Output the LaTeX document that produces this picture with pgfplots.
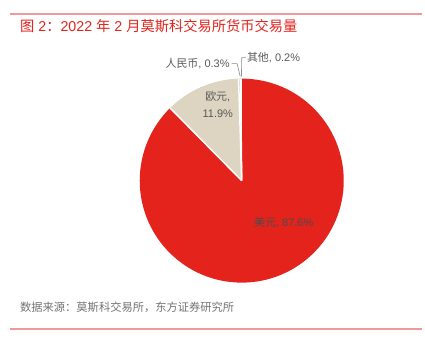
\documentclass[border=0pt]{standalone}
\usepackage{fontspec}
\usepackage{pgfplots}
\pgfplotsset{compat=1.18}
\setmainfont{Liberation Sans}
\newfontfamily\cjk{Noto Sans CJK SC}
\definecolor{cred}{HTML}{E3231C}
\definecolor{cbeige}{HTML}{DDD5C2}
\definecolor{cline}{HTML}{EE9A9A}
\definecolor{ctext}{HTML}{595959}
\definecolor{csmallA}{HTML}{BFBFBF}
\definecolor{csmallB}{HTML}{A6A6A6}
% shares in percent, clockwise from 12 o'clock
\def\vUSD{87.6}
\def\vEUR{11.9}
\def\vCNY{0.3}
\def\vOTH{0.2}
\pgfmathsetmacro{\aA}{90}
\pgfmathsetmacro{\aB}{90-3.6*\vUSD}
\pgfmathsetmacro{\aC}{\aB-3.6*\vEUR}
\pgfmathsetmacro{\aD}{\aC-3.6*\vCNY}
\pgfmathsetmacro{\aE}{\aD-3.6*\vOTH}
\pgfmathsetmacro{\xA}{cos(\aA)}\pgfmathsetmacro{\yA}{sin(\aA)}
\pgfmathsetmacro{\xB}{cos(\aB)}\pgfmathsetmacro{\yB}{sin(\aB)}
\pgfmathsetmacro{\xC}{cos(\aC)}\pgfmathsetmacro{\yC}{sin(\aC)}
\pgfmathsetmacro{\xD}{cos(\aD)}\pgfmathsetmacro{\yD}{sin(\aD)}
\begin{document}
\begin{tikzpicture}[x=1bp,y=1bp]
\path[use as bounding box] (0,0) rectangle (425,353);
\draw[cline,line width=1.2bp] (10,339) -- (422,339);
\draw[cline,line width=1.2bp] (10,24) -- (422,24);
\node[anchor=west,text=cred,font=\fontsize{14.3}{16}\selectfont,inner sep=0pt] at (20,327)
  {{\cjk 图} 2{\cjk ：}2022 {\cjk 年} 2 {\cjk 月莫斯科交易所货币交易量}};
\node[anchor=west,text=ctext!85,font=\fontsize{11.3}{13}\selectfont\cjk,inner sep=0pt] at (20,46)
  {数据来源：莫斯科交易所，东方证券研究所};
\begin{axis}[at={(237,169)},anchor=origin,x=102bp,y=102bp,
  xmin=-1,xmax=1,ymin=-1,ymax=1,hide axis,scale only axis,clip=false]
\fill[cred] (axis cs:0,0) -- (axis cs:\xA,\yA) arc[start angle=\aA,end angle=\aB,radius=102bp] -- cycle;
\fill[cbeige] (axis cs:0,0) -- (axis cs:\xB,\yB) arc[start angle=\aB,end angle=\aC,radius=102bp] -- cycle;
\fill[csmallA] (axis cs:0,0) -- (axis cs:\xC,\yC) arc[start angle=\aC,end angle=\aD,radius=102bp] -- cycle;
\fill[csmallB] (axis cs:0,0) -- (axis cs:\xD,\yD) arc[start angle=\aD,end angle=\aE,radius=102bp] -- cycle;
\draw[white,line width=1.5bp] (axis cs:0,0) -- (axis cs:\xA,\yA);
\draw[white,line width=1.5bp] (axis cs:0,0) -- (axis cs:\xB,\yB);
\draw[white,line width=1.5bp] (axis cs:0,0) -- (axis cs:\xC,\yC);
\draw[white,line width=1.5bp] (axis cs:0,0) -- (axis cs:\xD,\yD);
% labels
\node[text=ctext,font=\fontsize{11}{17}\selectfont,align=center] at (axis cs:-0.235,0.745)
  {{\cjk 欧元},\\11.9\%};
\node[text=black!70,font=\fontsize{11}{13}\selectfont] at (axis cs:0.412,-0.412)
  {{\cjk 美元}, 87.6\%};
\node[text=ctext,font=\fontsize{11}{13}\selectfont,anchor=east,inner sep=0pt] at (axis cs:-0.118,1.147)
  {{\cjk 人民币}, 0.3\%};
\node[text=ctext,font=\fontsize{11}{13}\selectfont,anchor=west,inner sep=0pt] at (axis cs:0.05,1.206)
  {{\cjk 其他}, 0.2\%};
\draw[ctext!70,line width=0.6bp] (axis cs:-0.10,1.147) -- (axis cs:-0.045,1.147) -- (axis cs:-0.015,1.02);
\draw[ctext!70,line width=0.6bp] (axis cs:0.04,1.206) -- (axis cs:0.0,1.206) -- (axis cs:-0.003,1.02);
\end{axis}
\end{tikzpicture}
\end{document}
